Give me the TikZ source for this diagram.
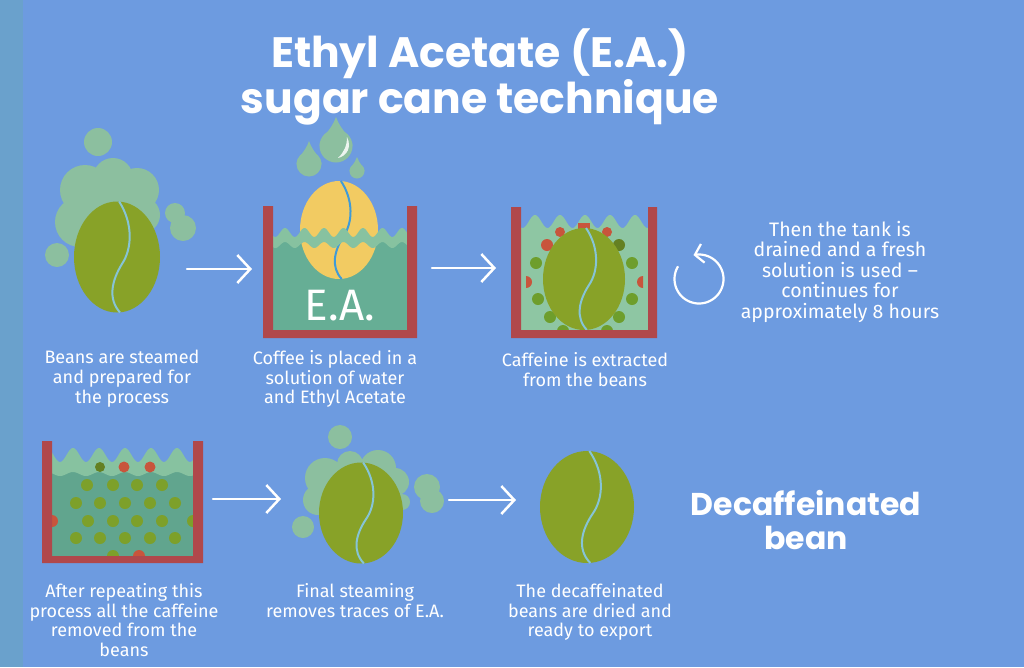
\documentclass[tikz,border=0pt]{standalone}
\usepackage{fontspec}
\setmainfont{Fira Sans}
\newfontfamily\titlefont{Poppins}
\usetikzlibrary{shapes.geometric,arrows.meta}
\definecolor{bgblue}{HTML}{6D9BE0}
\definecolor{stripband}{HTML}{6AA1CC}
\definecolor{beangreen}{HTML}{88A228}
\definecolor{beanline}{HTML}{86C4D6}
\definecolor{steam}{HTML}{8CBF9F}
\definecolor{tankred}{HTML}{B0484B}
\definecolor{waterdark}{HTML}{66AE95}
\definecolor{waterlight}{HTML}{87C2A0}
\definecolor{waterpale}{HTML}{8EC6A3}
\definecolor{beanyellow}{HTML}{F2CB62}
\definecolor{yellowline}{HTML}{3F9BD8}
\definecolor{dotgreen}{HTML}{6E9E2C}
\definecolor{dotolive}{HTML}{7DA02A}
\definecolor{dotred}{HTML}{C8553C}

\newcommand\mystripe[4]{%
  \begin{scope}[shift={(#1.center)}, x=#2pt, y=-#3pt]
    \draw[#4, line width=2pt] (0.05,-1) .. controls (0.38,-0.6) and (0.35,-0.15) .. (0.12,0.12) .. controls (-0.12,0.42) and (-0.22,0.75) .. (0.07,1);
  \end{scope}}
\newcommand\mydrop[4]{%
  \fill[steam] (#1,#2) .. controls ({#1+0.3*#4},{#2+0.5*(#3-#2)}) and ({#1+#4},{#3-0.5*#4}) .. ({#1+#4},#3) -- ({#1-#4},#3) .. controls ({#1-#4},{#3-0.5*#4}) and ({#1-0.3*#4},{#2+0.5*(#3-#2)}) .. cycle;
  \fill[steam] (#1,#3) circle[radius=#4];}

\tikzset{
  bean/.style={ellipse, fill=beangreen, inner sep=0pt, draw=none},
  lbl/.style={text=white, align=center, inner sep=0pt, anchor=north, font=\fontsize{18}{19.8}\selectfont},
  flow/.style={white, line width=2.5pt, line cap=round, -{Straight Barb[length=13pt,width=28pt,line width=2.5pt]}},
  wall/.style={fill=tankred},
}

\begin{document}
\begin{tikzpicture}[x=1pt, y=-1pt]
\useasboundingbox (0,0) rectangle (1024,667);
\fill[bgblue] (0,0) rectangle (1024,667);
\fill[stripband] (0,0) rectangle (23,667);

% title
\node[text=white, align=center, inner sep=0pt, anchor=north, font=\titlefont\bfseries\fontsize{42.5}{45}\selectfont] (title) at (480,28) {Ethyl Acetate (E.A.)\\sugar cane technique};

% ---------- step 1: steamed bean ----------
\fill[steam] (98,142) circle[radius=14];
\fill[steam] (85,190) circle[radius=25] (113,178) circle[radius=20] (137,190) circle[radius=22]
  (80,222) circle[radius=25] (142,215) circle[radius=18] (110,210) circle[radius=30];
\fill[steam] (57,255) circle[radius=12] (175,213) circle[radius=10] (183,228) circle[radius=13];
\node[bean, minimum width=86pt, minimum height=111pt] (b1) at (117,257) {};
\mystripe{b1}{43}{55.5}{beanline}

% ---------- step 2: tank with E.A. ----------
\mydrop{336}{117}{146}{16.5}
\fill[white, opacity=0.85] (347,137) .. controls (352,147) and (347,156) .. (338,158) .. controls (344,152) and (347,146) .. cycle;
\mydrop{309}{141}{164}{12.5}
\mydrop{357}{157}{171}{7.5}
\fill[waterdark] (273,240) rectangle (407,330);
\node[ellipse, fill=beanyellow, inner sep=0pt, minimum width=78pt, minimum height=98pt] (b2) at (339,230) {};
\mystripe{b2}{39}{49}{yellowline}
\fill[waterlight] plot[domain=273:407, samples=120] (\x,{232.5-4.5*cos((\x-285)*18.46)})
  -- plot[domain=0:134, samples=120] ({407-\x},{245-3*cos((407-\x-285)*18.46)}) -- cycle;
\node[text=white, inner sep=0pt, anchor=base, font=\fontsize{44}{44}\selectfont] (ea) at (340,320) {E.A.};
\fill[wall] (263,206) rectangle (273,338) (407,206) rectangle (417,338) (263,330) rectangle (417,338);

% ---------- step 3: extraction ----------
\fill[waterpale] (521,330) -- plot[domain=521:648, samples=120] (\x,{221.5-6.5*cos((\x-535)*14.4)}) -- (648,330) -- cycle;
\foreach \p in {(536,263),(538,299),(550,317),(632,263),(632,299),(619,317),(563,331),(607,331)}
  \fill[dotgreen] \p circle[radius=6];
\fill[dotolive!80!black] (619,245) circle[radius=6];
\fill[dotred] (547,245) circle[radius=6] (560,232) circle[radius=5] (607,232) circle[radius=5];
\fill[dotred] (526,276) -- (526,288) arc[start angle=-90, end angle=90, radius=6pt] -- cycle;
\fill[dotred] (643,276) -- (643,288) arc[start angle=-90, end angle=-270, radius=6pt] -- cycle;
\fill[dotred] (578,223) rectangle (590,229);
\node[bean, minimum width=82pt, minimum height=102pt] (b3) at (584,279) {};
\mystripe{b3}{41}{51}{beanline}
\fill[wall] (511,207) rectangle (521,338) (648,207) rectangle (657,338) (511,330) rectangle (657,338);

% cycle arrow
\coordinate (cyc) at (699,279);
\draw[white, line width=2.2pt, line cap=round, -{Straight Barb[length=8pt,width=19pt,line width=2.2pt]}]
  plot[domain=-210:103, samples=80] ({699+24.5*cos(-\x)},{279+24.5*sin(-\x)});

% ---------- step 4: repeated tank ----------
\fill[waterdark!95!black] (52,470) rectangle (193,556);
\fill[waterlight] plot[domain=52:193, samples=120] (\x,{455-7*cos((\x-73)*13.85)})
  -- plot[domain=0:141, samples=120] ({193-\x},{474-2*cos((193-\x-73)*13.85)}) -- cycle;
\foreach \p in {(87,485),(113,485),(137,485),(162,485),
                (76,503),(100,503),(125,503),(150,503),(175,503),
                (88,521),(113,521),(137,521),(162,521),
                (76,538),(100,538),(125,538),(150,538),(175,538),
                (113,556)}
  \fill[dotolive] \p circle[radius=6];
\fill[dotolive!80!black] (100,467) circle[radius=5];
\fill[dotred] (124,467) circle[radius=5.5] (150,467) circle[radius=5.5];
\fill[dotred] (139,556) circle[radius=6];
\fill[dotred] (52,515) -- (52,527) arc[start angle=-90, end angle=90, radius=6pt] -- cycle;
\fill[dotolive] (193,515) -- (193,527) arc[start angle=-90, end angle=-270, radius=6pt] -- cycle;
\fill[wall] (42,441) rectangle (52,563) (193,441) rectangle (203,563) (42,556) rectangle (203,563);

% ---------- step 5: final steaming ----------
\fill[steam] (340,437) circle[radius=12];
\fill[steam] (325,478) circle[radius=20] (350,464) circle[radius=13] (378,468) circle[radius=18]
  (395,482) circle[radius=14] (318,500) circle[radius=15] (402,502) circle[radius=8];
\fill[steam] (303,527) circle[radius=11] (427,487) circle[radius=13] (432,501) circle[radius=12];
\node[bean, minimum width=84pt, minimum height=101pt] (b4) at (361,513) {};
\mystripe{b4}{42}{50.5}{beanline}

% ---------- step 6: decaffeinated bean ----------
\node[bean, minimum width=94pt, minimum height=112pt] (b5) at (587,507) {};
\mystripe{b5}{47}{56}{beanline}

% arrows
\coordinate (a1s) at (187,269); \coordinate (a1e) at (252,269);
\coordinate (a2s) at (432,268); \coordinate (a2e) at (496,268);
\coordinate (a3s) at (213,499); \coordinate (a3e) at (281,499);
\coordinate (a4s) at (449,500); \coordinate (a4e) at (516,500);
\draw[flow] (a1s) -- (a1e);
\draw[flow] (a2s) -- (a2e);
\draw[flow] (a3s) -- (a3e);
\draw[flow] (a4s) -- (a4e);

% labels
\node[lbl] (l1) at (122,350) {Beans are steamed\\and prepared for\\the process};
\node[lbl] (l2) at (335,350) {Coffee is placed in a\\solution of water\\and Ethyl Acetate};
\node[lbl] (l3) at (585,352) {Caffeine is extracted\\from the beans};
\node[lbl, font=\fontsize{19.5}{20.5}\selectfont] (l4) at (840,221) {Then the tank is\\drained and a fresh\\solution is used –\\continues for\\approximately 8 hours};
\node[lbl] (l5) at (124,583) {After repeating this\\process all the caffeine\\removed from the\\beans};
\node[lbl] (l6) at (355,583) {Final steaming\\removes traces of E.A.};
\node[lbl] (l7) at (590,583) {The decaffeinated\\beans are dried and\\ready to export};
\node[text=white, align=center, inner sep=0pt, anchor=north, font=\titlefont\bfseries\fontsize{31.5}{34}\selectfont] (decaf) at (806,490) {Decaffeinated\\bean};
\end{tikzpicture}
\end{document}
